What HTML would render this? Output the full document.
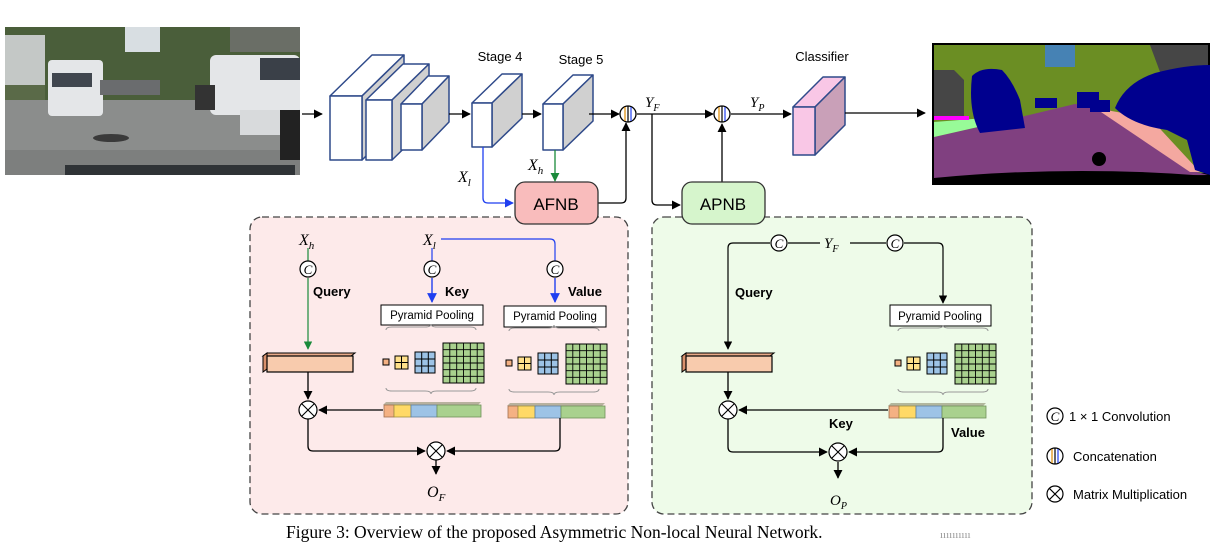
<!DOCTYPE html>
<html><head><meta charset="utf-8"><style>
html,body{margin:0;padding:0;background:#fff;}
svg{display:block;}
.s{font-family:"Liberation Sans",sans-serif;}
.m{font-family:"Liberation Serif",serif;font-style:italic;}
</style></head><body>
<svg width="1222" height="549" viewBox="0 0 1222 549" xmlns="http://www.w3.org/2000/svg">
<defs>
<marker id="a" viewBox="0 0 10 10" refX="9" refY="5" markerWidth="7" markerHeight="7" orient="auto"><path d="M0,0 L10,5 L0,10 z" fill="#000"/></marker>
<marker id="ab" viewBox="0 0 10 10" refX="9" refY="5" markerWidth="7" markerHeight="7" orient="auto"><path d="M0,0 L10,5 L0,10 z" fill="#1f3ff0"/></marker>
<marker id="ag" viewBox="0 0 10 10" refX="9" refY="5" markerWidth="7" markerHeight="7" orient="auto"><path d="M0,0 L10,5 L0,10 z" fill="#1a8a3a"/></marker>
<g id="pyr">
 <path d="M5,-6 q0,-3 6,-3 h33 q6,0 6,-3 q0,3 6,3 h33 q6,0 6,3" fill="none" stroke="#999" stroke-width="1"/>
 <rect x="2" y="23" width="6" height="6" fill="#f4b183" stroke="#000"/>
 <rect x="14" y="20" width="13" height="13" fill="#ffe08a" stroke="#000"/>
 <path d="M20.5,20 v13 M14,26.5 h13" stroke="#000"/>
 <rect x="34" y="16" width="20" height="21" fill="#9dc3e6" stroke="#000"/>
 <path d="M40.7,16 v21 M47.3,16 v21 M34,23 h20 M34,30 h20" stroke="#000"/>
 <rect x="62" y="7" width="41" height="40" fill="#a9d18e" stroke="#000"/>
 <path d="M68.8,7v40M75.7,7v40M82.5,7v40M89.3,7v40M96.2,7v40M62,13.7h41M62,20.3h41M62,27h41M62,33.7h41M62,40.3h41" stroke="#000" stroke-width="0.9"/>
 <path d="M5,52 q0,3 6,3 h33 q6,0 6,3 q0,-3 6,-3 h33 q6,0 6,-3" fill="none" stroke="#999" stroke-width="1"/>
</g>
<g id="bar">
 <path d="M0,3 l3,-3 h95 l-3,3 z" fill="#8a8a6a" opacity=".6"/>
 <rect x="1" y="3" width="10" height="12" fill="#f4b183" stroke="#a07050" stroke-width=".8"/>
 <rect x="11" y="3" width="17" height="12" fill="#ffd966" stroke="#a09040" stroke-width=".8"/>
 <rect x="28" y="3" width="26" height="12" fill="#9dc3e6" stroke="#6080a0" stroke-width=".8"/>
 <rect x="54" y="3" width="44" height="12" fill="#a9d18e" stroke="#70905a" stroke-width=".8"/>
</g>
<g id="qbar">
 <path d="M0,3 l4,-3 h88 l-4,3 z" fill="#e9a987" stroke="#000" stroke-width="1"/>
 <path d="M0,3 l4,-3 v16 l-4,3 z" fill="#d8906c" stroke="#000" stroke-width="1"/>
 <rect x="4" y="3" width="86" height="16" fill="#f8cbad" stroke="#000" stroke-width="1.2"/>
</g>
</defs>

<!-- left photo -->
<rect x="5" y="27" width="295" height="148" fill="#8e908f"/>
<rect x="5" y="27" width="295" height="75" fill="#4a5e3a"/>
<rect x="5" y="35" width="40" height="50" fill="#c4c8c6"/>
<rect x="125" y="27" width="35" height="25" fill="#d8dee2"/>
<rect x="230" y="27" width="70" height="25" fill="#6a6e66"/>
<rect x="5" y="85" width="40" height="20" fill="#5a6a48"/>
<rect x="5" y="100" width="295" height="60" fill="#8b8d8c"/>
<rect x="5" y="150" width="295" height="25" fill="#7d7f7e"/>
<rect x="65" y="165" width="230" height="10" fill="#2f3336"/>
<rect x="48" y="60" width="55" height="56" rx="4" fill="#e4e6e8"/>
<rect x="52" y="73" width="40" height="14" fill="#40464e"/>
<rect x="100" y="80" width="60" height="15" fill="#6a6c6e"/>
<rect x="210" y="55" width="90" height="60" rx="6" fill="#e4e6e8"/>
<rect x="260" y="58" width="40" height="22" fill="#3a4048"/>
<rect x="240" y="110" width="40" height="25" fill="#d8dadc"/>
<rect x="280" y="110" width="20" height="50" fill="#222"/>
<rect x="195" y="85" width="20" height="25" fill="#333"/>
<ellipse cx="111" cy="138" rx="18" ry="4" fill="#3a3a3a"/>

<!-- segmentation -->
<rect x="932" y="43" width="278" height="142" fill="#000"/>
<rect x="934" y="45" width="274" height="128" fill="#6b8e23"/>
<rect x="1045" y="45" width="30" height="22" fill="#4682b4"/>
<path d="M1150,45 h58 v30 l-45,5 z" fill="#464646"/>
<path d="M934,70 h20 l10,10 v40 h-30 z" fill="#464646"/>
<path d="M934,137 L1000,122 L1075,104 L1110,110 L1190,170 L1208,175 L934,178 z" fill="#804080"/>
<path d="M1095,108 L1150,118 L1200,172 L1190,172 z" fill="#f4a8a0"/>
<path d="M934,122 L985,118 L1000,122 L934,137 z" fill="#98fb98"/>
<rect x="934" y="116" width="35" height="4" fill="#ff00ff"/>
<path d="M972,76 q10,-10 30,-6 q10,10 18,30 l5,28 l-45,5 q-12,-22 -8,-57 z" fill="#00008e"/>
<path d="M1115,108 q10,-25 40,-35 q30,-8 55,-8 v110 l-15,-5 l-8,-30 l-20,-10 q-35,-5 -52,-22 z" fill="#00008e"/>
<rect x="1035" y="98" width="22" height="10" fill="#00008e"/>
<rect x="1077" y="92" width="22" height="16" fill="#00008e"/>
<rect x="1090" y="100" width="20" height="12" fill="#00008e"/>
<circle cx="1099" cy="159" r="7" fill="#000"/>
<path d="M934,178 Q1070,165 1208,176 L1208,185 L932,185 z" fill="#000"/>

<!-- backbone -->
<g stroke="#2f4a8a" stroke-width="1.5" stroke-linejoin="round">
 <path d="M330,96 l42,-41 h32 l-42,41 z" fill="#fff"/><path d="M362,96 l42,-41 v64 l-42,41 z" fill="#d0d0d0"/><rect x="330" y="96" width="32" height="64" fill="#fff"/>
 <path d="M366,100 l37,-36 h26 l-37,36 z" fill="#fff"/><path d="M392,100 l37,-36 v60 l-37,36 z" fill="#d0d0d0"/><rect x="366" y="100" width="26" height="60" fill="#fff"/>
 <path d="M401,104 l27,-28 h21 l-27,28 z" fill="#fff"/><path d="M422,104 l27,-28 v46 l-27,28 z" fill="#d0d0d0"/><rect x="401" y="104" width="21" height="46" fill="#fff"/>
 <path d="M472,103 l30,-29 h20 l-30,29 z" fill="#fff"/><path d="M492,103 l30,-29 v44 l-30,29 z" fill="#d0d0d0"/><rect x="472" y="103" width="20" height="44" fill="#fff"/>
 <path d="M543,104 l30,-29 h20 l-30,29 z" fill="#fff"/><path d="M563,104 l30,-29 v46 l-30,29 z" fill="#d0d0d0"/><rect x="543" y="104" width="20" height="46" fill="#fff"/>
 <path d="M793,107 l30,-30 h22 l-30,30 z" fill="#f9c7e6"/><path d="M815,107 l30,-30 v48 l-30,30 z" fill="#c9a0b8"/><rect x="793" y="107" width="22" height="48" fill="#f9c7e6"/>
</g>
<text x="500" y="61" class="s" font-size="13" text-anchor="middle">Stage 4</text>
<text x="581" y="64" class="s" font-size="13" text-anchor="middle">Stage 5</text>
<text x="822" y="61" class="s" font-size="13" text-anchor="middle">Classifier</text>

<g stroke="#000" stroke-width="1.3" fill="none">
 <line x1="302" y1="114" x2="322" y2="114" marker-end="url(#a)"/>
 <line x1="449" y1="114" x2="470" y2="114" marker-end="url(#a)"/>
 <line x1="522" y1="114" x2="541" y2="114" marker-end="url(#a)"/>
 <line x1="589" y1="114" x2="619" y2="114" marker-end="url(#a)"/>
 <line x1="637" y1="114" x2="713" y2="114" marker-end="url(#a)"/>
 <line x1="731" y1="114" x2="791" y2="114" marker-end="url(#a)"/>
 <line x1="845" y1="113" x2="925" y2="113" marker-end="url(#a)"/>
 <path d="M598,203 h23 q5,0 5,-5 v-75" marker-end="url(#a)"/>
 <path d="M652,114 v86 q0,5 5,5 h23" marker-end="url(#a)"/>
 <line x1="722" y1="182" x2="722" y2="124" marker-end="url(#a)"/>
</g>
<path d="M483,147 v51 q0,5 5,5 h25" stroke="#1f3ff0" stroke-width="1.3" fill="none" marker-end="url(#ab)"/>
<line x1="555" y1="150" x2="555" y2="181" stroke="#1a8a3a" stroke-width="1.3" marker-end="url(#ag)"/>
<g stroke="#000" stroke-width="1.3" fill="#fff">
 <circle cx="628" cy="114" r="8"/><circle cx="722" cy="114" r="8"/>
</g>
<g stroke-width="1.2"><line x1="625" y1="107" x2="625" y2="121" stroke="#e08a00"/><line x1="628" y1="106" x2="628" y2="122" stroke="#000"/><line x1="631" y1="107" x2="631" y2="121" stroke="#1f3ff0"/>
<line x1="719" y1="107" x2="719" y2="121" stroke="#e08a00"/><line x1="722" y1="106" x2="722" y2="122" stroke="#000"/><line x1="725" y1="107" x2="725" y2="121" stroke="#1f3ff0"/></g>
<text x="645" y="107" class="m" font-size="15">Y<tspan font-size="10" dy="4">F</tspan></text>
<text x="750" y="107" class="m" font-size="15">Y<tspan font-size="10" dy="4">P</tspan></text>
<text x="458" y="182" class="m" font-size="16">X<tspan font-size="11" dy="4">l</tspan></text>
<text x="528" y="170" class="m" font-size="16">X<tspan font-size="11" dy="4">h</tspan></text>

<!-- panels -->
<rect x="250" y="217" width="378" height="297" rx="12" fill="#fdeaea" stroke="#444" stroke-width="1.3" stroke-dasharray="7,4"/>
<rect x="652" y="217" width="380" height="297" rx="12" fill="#eefbe9" stroke="#444" stroke-width="1.3" stroke-dasharray="7,4"/>
<rect x="515" y="182" width="83" height="42" rx="10" fill="#f9bcbc" stroke="#333" stroke-width="1.3"/>
<text x="556" y="210" class="s" font-size="17" text-anchor="middle">AFNB</text>
<rect x="682" y="182" width="83" height="42" rx="10" fill="#d6f5cc" stroke="#333" stroke-width="1.3"/>
<text x="723" y="210" class="s" font-size="17" text-anchor="middle">APNB</text>

<!-- left panel contents -->
<text x="299" y="245" class="m" font-size="16">X<tspan font-size="11" dy="4">h</tspan></text>
<text x="423" y="245" class="m" font-size="16">X<tspan font-size="11" dy="4">l</tspan></text>
<line x1="308" y1="248" x2="308" y2="261" stroke="#1a8a3a" stroke-width="1.2"/>
<line x1="308" y1="278" x2="308" y2="349" stroke="#1a8a3a" stroke-width="1.2" marker-end="url(#ag)"/>
<line x1="432" y1="248" x2="432" y2="261" stroke="#1f3ff0" stroke-width="1.2"/>
<line x1="432" y1="278" x2="432" y2="302" stroke="#1f3ff0" stroke-width="1.4" marker-end="url(#ab)"/>
<path d="M441,239 h109 q5,0 5,5 v17" stroke="#1f3ff0" stroke-width="1.2" fill="none"/>
<line x1="555" y1="278" x2="555" y2="302" stroke="#1f3ff0" stroke-width="1.4" marker-end="url(#ab)"/>
<g fill="#fff" stroke="#000" stroke-width="1.2"><circle cx="308" cy="269" r="8"/><circle cx="432" cy="269" r="8"/><circle cx="555" cy="269" r="8"/></g>
<g class="m" font-size="13" text-anchor="middle"><text x="308" y="274">C</text><text x="432" y="274">C</text><text x="555" y="274">C</text></g>
<g class="s" font-size="13" font-weight="bold"><text x="313" y="296">Query</text><text x="445" y="296">Key</text><text x="568" y="296">Value</text></g>
<rect x="381" y="305" width="102" height="20" fill="#fff" stroke="#000"/>
<text x="432" y="319" class="s" font-size="11.5" text-anchor="middle">Pyramid Pooling</text>
<rect x="504" y="306" width="102" height="21" fill="#fff" stroke="#000"/>
<text x="555" y="320" class="s" font-size="11.5" text-anchor="middle">Pyramid Pooling</text>
<use href="#pyr" transform="translate(381,336)"/>
<use href="#pyr" transform="translate(504,337)"/>
<use href="#qbar" transform="translate(263,353)"/>
<use href="#bar" transform="translate(383,402)"/>
<use href="#bar" transform="translate(507,403)"/>
<g stroke="#000" stroke-width="1.3" fill="none">
 <line x1="308" y1="372" x2="308" y2="399" marker-end="url(#a)"/>
 <line x1="383" y1="410" x2="319" y2="410" marker-end="url(#a)"/>
 <path d="M308,419 v27 q0,5 5,5 h112" marker-end="url(#a)"/>
 <path d="M560,418 v28 q0,5 -5,5 h-108" marker-end="url(#a)"/>
 <line x1="436" y1="460" x2="436" y2="474" marker-end="url(#a)"/>
</g>
<g fill="#fff" stroke="#000" stroke-width="1.2"><circle cx="308" cy="410" r="9"/><circle cx="436" cy="451" r="9"/></g>
<path d="M301.6,403.6l12.8,12.8M314.4,403.6l-12.8,12.8M429.6,444.6l12.8,12.8M442.4,444.6l-12.8,12.8" stroke="#000" stroke-width="1.1"/>
<text x="427" y="497" class="m" font-size="16">O<tspan font-size="11" dy="4">F</tspan></text>

<!-- right panel contents -->
<path d="M770,243 h-37 q-5,0 -5,5 v101" stroke="#000" stroke-width="1.2" fill="none" marker-end="url(#a)"/>
<line x1="788" y1="243" x2="820" y2="243" stroke="#000" stroke-width="1.2"/>
<line x1="850" y1="243" x2="886" y2="243" stroke="#000" stroke-width="1.2"/>
<path d="M904,243 h34 q5,0 5,5 v55" stroke="#000" stroke-width="1.2" fill="none" marker-end="url(#a)"/>
<g fill="#fff" stroke="#000" stroke-width="1.2"><circle cx="779" cy="243" r="8"/><circle cx="895" cy="243" r="8"/></g>
<g class="m" font-size="13" text-anchor="middle"><text x="779" y="248">C</text><text x="895" y="248">C</text></g>
<text x="824" y="248" class="m" font-size="15">Y<tspan font-size="10" dy="4">F</tspan></text>
<text x="735" y="297" class="s" font-size="13" font-weight="bold">Query</text>
<rect x="890" y="305" width="101" height="21" fill="#fff" stroke="#000"/>
<text x="940" y="320" class="s" font-size="11.5" text-anchor="middle">Pyramid Pooling</text>
<use href="#pyr" transform="translate(893,337)"/>
<use href="#qbar" transform="translate(682,353)"/>
<use href="#bar" transform="translate(888,403)"/>
<g stroke="#000" stroke-width="1.3" fill="none">
 <line x1="728" y1="372" x2="728" y2="399" marker-end="url(#a)"/>
 <line x1="888" y1="410" x2="739" y2="410" marker-end="url(#a)"/>
 <path d="M728,419 v28 q0,5 5,5 h94" marker-end="url(#a)"/>
 <path d="M943,418 v29 q0,5 -5,5 h-89" marker-end="url(#a)"/>
 <line x1="838" y1="462" x2="838" y2="478" marker-end="url(#a)"/>
</g>
<g fill="#fff" stroke="#000" stroke-width="1.2"><circle cx="728" cy="410" r="9"/><circle cx="838" cy="452" r="9"/></g>
<path d="M721.6,403.6l12.8,12.8M734.4,403.6l-12.8,12.8M831.6,445.6l12.8,12.8M844.4,445.6l-12.8,12.8" stroke="#000" stroke-width="1.1"/>
<g class="s" font-size="13" font-weight="bold"><text x="829" y="428">Key</text><text x="951" y="437">Value</text></g>
<text x="830" y="505" class="m" font-size="15">O<tspan font-size="10" dy="4">P</tspan></text>

<!-- legend -->
<g fill="#fff" stroke="#000" stroke-width="1.2"><circle cx="1055" cy="416" r="8"/><circle cx="1055" cy="456" r="8"/><circle cx="1055" cy="494" r="8"/></g>
<text x="1055" y="421" class="m" font-size="13" text-anchor="middle">C</text>
<g stroke-width="1.2"><line x1="1052" y1="449" x2="1052" y2="463" stroke="#e08a00"/><line x1="1055" y1="448" x2="1055" y2="464" stroke="#000"/><line x1="1058" y1="449" x2="1058" y2="463" stroke="#1f3ff0"/></g>
<path d="M1049.3,488.3l11.4,11.4M1060.7,488.3l-11.4,11.4" stroke="#000" stroke-width="1.1"/>
<g class="s" font-size="13"><text x="1069" y="421">1 × 1 Convolution</text><text x="1073" y="461">Concatenation</text><text x="1073" y="499">Matrix Multiplication</text></g>

<text x="286" y="538" font-family="Liberation Serif,serif" font-size="17.5">Figure 3: Overview of the proposed Asymmetric Non-local Neural Network.</text>
<text x="940" y="538" font-family="Liberation Serif,serif" font-size="11" fill="#999">ıııııııııı</text>
</svg>
</body></html>
